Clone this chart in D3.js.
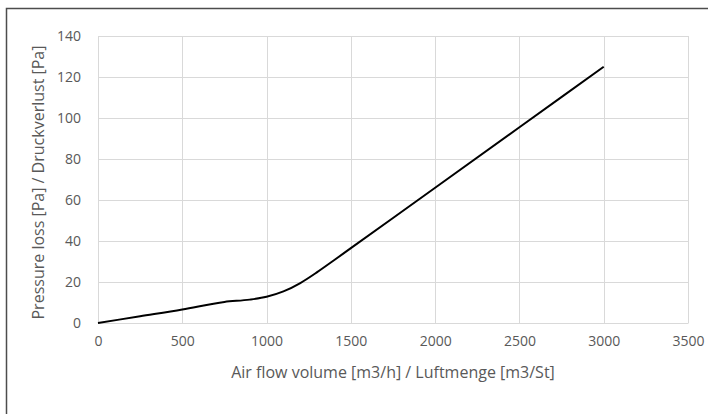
<!DOCTYPE html>
<html>
<head>
<meta charset="utf-8">
<script src="https://cdn.jsdelivr.net/npm/d3@7"></script>
<style>
  body { margin: 0; background: #fff; }
  svg { display: block; font-family: "Open Sans", Lato, sans-serif; }
</style>
</head>
<body>
<div id="chart"></div>
<script>
// data
let flow = [0, 250, 500, 750, 900, 1000, 1100, 1200, 1300, 1400, 1500, 2000, 2500, 3000];
let pressure = [0, 3.3, 6.6, 10.3, 11.4, 12.8, 15.4, 19.5, 24.8, 30.6, 36.5, 66, 95.5, 125];
let xTicks = [0, 500, 1000, 1500, 2000, 2500, 3000, 3500];
let yTicks = [0, 20, 40, 60, 80, 100, 120, 140];

let svgWidth = 708;
let svgHeight = 414;

let margin = { top: 36, left: 98, right: 20, bottom: 91 };
let width = 688 - margin.left;
let height = 323 - margin.top;

let svg = d3.select("#chart")
  .append("svg")
  .attr("width", svgWidth)
  .attr("height", svgHeight);

// outer frame (cut off at right and bottom)
svg.append("rect")
  .attr("x", 6.5)
  .attr("y", 8.5)
  .attr("width", 900)
  .attr("height", 600)
  .attr("fill", "none")
  .attr("stroke", "#4d4d4d")
  .attr("stroke-width", 1.5);

let chartGroup = svg.append("g")
  .attr("transform", `translate(${margin.left}, ${margin.top})`);

let xScale = d3.scaleLinear().domain([0, 3500]).range([0, width]);
let yScale = d3.scaleLinear().domain([0, 140]).range([height, 0]);

// gridlines
chartGroup.append("g")
  .selectAll("line")
  .data(yTicks)
  .enter()
  .append("line")
  .attr("x1", 0)
  .attr("x2", width)
  .attr("y1", d => Math.round(yScale(d)) + 0.5)
  .attr("y2", d => Math.round(yScale(d)) + 0.5)
  .attr("stroke", "#d9d9d9")
  .attr("stroke-width", 1);

chartGroup.append("g")
  .selectAll("line")
  .data(xTicks)
  .enter()
  .append("line")
  .attr("x1", d => Math.round(xScale(d)) + 0.5)
  .attr("x2", d => Math.round(xScale(d)) + 0.5)
  .attr("y1", 0)
  .attr("y2", height)
  .attr("stroke", "#d9d9d9")
  .attr("stroke-width", 1);

// axes (labels only)
let xAxis = d3.axisBottom(xScale).tickValues(xTicks).tickFormat(d3.format("d")).tickSize(0).tickPadding(13);
let yAxis = d3.axisLeft(yScale).tickValues(yTicks).tickFormat(d3.format("d")).tickSize(0).tickPadding(17);

let gx = chartGroup.append("g")
  .attr("transform", `translate(0, ${height})`)
  .call(xAxis);
gx.select(".domain").attr("stroke", "#d9d9d9");
gx.selectAll("text").attr("font-size", "14px").attr("fill", "#595959")
  .attr("font-family", "'Open Sans', Lato, sans-serif");

let gy = chartGroup.append("g").call(yAxis);
gy.select(".domain").remove();
gy.selectAll("text").attr("font-size", "14px").attr("fill", "#595959")
  .attr("font-family", "'Open Sans', Lato, sans-serif");

// line
let points = flow.map((f, i) => [f, pressure[i]]);
let line = d3.line()
  .x(d => xScale(d[0]))
  .y(d => yScale(d[1]))
  .curve(d3.curveMonotoneX);

chartGroup.append("path")
  .datum(points)
  .attr("d", line)
  .attr("fill", "none")
  .attr("stroke", "#000")
  .attr("stroke-width", 2);

// axis titles
svg.append("text")
  .attr("x", 393)
  .attr("y", 378)
  .attr("text-anchor", "middle")
  .attr("font-size", "16px")
  .attr("fill", "#595959")
  .text("Air flow volume [m3/h] / Luftmenge [m3/St]");

svg.append("text")
  .attr("transform", "translate(44, 182.5) rotate(-90)")
  .attr("text-anchor", "middle")
  .attr("font-size", "16px")
  .attr("fill", "#595959")
  .text("Pressure loss [Pa] / Druckverlust [Pa]");
</script>
</body>
</html>
